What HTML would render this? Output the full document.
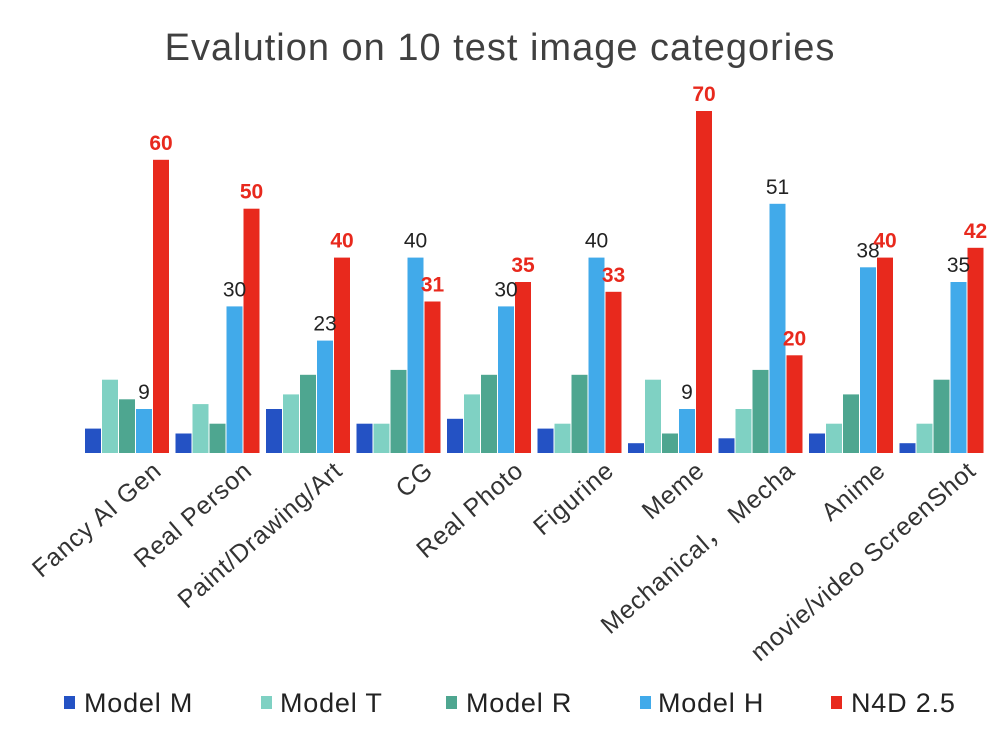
<!DOCTYPE html>
<html><head><meta charset="utf-8"><style>body{margin:0;background:#fff}svg{display:block}
.m{fill:#2452c4}.t{fill:#7fd1c3}.r{fill:#4ea690}.h{fill:#41aaea}.n{fill:#e8291d}
.lh{font-size:21px;fill:#222;text-anchor:middle}.ln{font-size:21px;font-weight:bold;fill:#e8291d;text-anchor:middle}
.c{font-size:25px;fill:#333;text-anchor:end;letter-spacing:0.8px}.lg{font-size:27px;fill:#222;letter-spacing:0.8px}
</style></head><body>
<svg width="1000" height="756" viewBox="0 0 1000 756" xmlns="http://www.w3.org/2000/svg" font-family="Liberation Sans, sans-serif">
<rect width="1000" height="756" fill="#fff"/>
<text x="500" y="60" text-anchor="middle" font-size="38" letter-spacing="1" fill="#404040">Evalution on 10 test image categories</text>

<g transform="translate(85,453)">
<rect class="m" x="0" y="-24.4" width="16" height="24.4"/><rect class="t" x="17" y="-73.3" width="16" height="73.3"/><rect class="r" x="34" y="-53.7" width="16" height="53.7"/><rect class="h" x="51" y="-44" width="16" height="44"/><rect class="n" x="68" y="-293.2" width="16" height="293.2"/>
<text class="lh" x="59" y="-54">9</text><text class="ln" x="76" y="-303">60</text>
<text class="c" transform="translate(78,20) rotate(-41)">Fancy AI Gen</text></g>

<g transform="translate(175.5,453)">
<rect class="m" x="0" y="-19.5" width="16" height="19.5"/><rect class="t" x="17" y="-48.9" width="16" height="48.9"/><rect class="r" x="34" y="-29.3" width="16" height="29.3"/><rect class="h" x="51" y="-146.6" width="16" height="146.6"/><rect class="n" x="68" y="-244.3" width="16" height="244.3"/>
<text class="lh" x="59" y="-156.6">30</text><text class="ln" x="76" y="-254.3">50</text>
<text class="c" transform="translate(78,20) rotate(-41)">Real Person</text></g>

<g transform="translate(266,453)">
<rect class="m" x="0" y="-44" width="16" height="44"/><rect class="t" x="17" y="-58.6" width="16" height="58.6"/><rect class="r" x="34" y="-78.2" width="16" height="78.2"/><rect class="h" x="51" y="-112.4" width="16" height="112.4"/><rect class="n" x="68" y="-195.4" width="16" height="195.4"/>
<text class="lh" x="59" y="-122.4">23</text><text class="ln" x="76" y="-205.4">40</text>
<text class="c" transform="translate(78,20) rotate(-41)">Paint/Drawing/Art</text></g>

<g transform="translate(356.5,453)">
<rect class="m" x="0" y="-29.3" width="16" height="29.3"/><rect class="t" x="17" y="-29.3" width="16" height="29.3"/><rect class="r" x="34" y="-83.1" width="16" height="83.1"/><rect class="h" x="51" y="-195.4" width="16" height="195.4"/><rect class="n" x="68" y="-151.5" width="16" height="151.5"/>
<text class="lh" x="59" y="-205.4">40</text><text class="ln" x="76" y="-161.5">31</text>
<text class="c" transform="translate(78,20) rotate(-41)">CG</text></g>

<g transform="translate(447,453)">
<rect class="m" x="0" y="-34.2" width="16" height="34.2"/><rect class="t" x="17" y="-58.6" width="16" height="58.6"/><rect class="r" x="34" y="-78.2" width="16" height="78.2"/><rect class="h" x="51" y="-146.6" width="16" height="146.6"/><rect class="n" x="68" y="-171" width="16" height="171"/>
<text class="lh" x="59" y="-156.6">30</text><text class="ln" x="76" y="-181">35</text>
<text class="c" transform="translate(78,20) rotate(-41)">Real Photo</text></g>

<g transform="translate(537.5,453)">
<rect class="m" x="0" y="-24.4" width="16" height="24.4"/><rect class="t" x="17" y="-29.3" width="16" height="29.3"/><rect class="r" x="34" y="-78.2" width="16" height="78.2"/><rect class="h" x="51" y="-195.4" width="16" height="195.4"/><rect class="n" x="68" y="-161.2" width="16" height="161.2"/>
<text class="lh" x="59" y="-205.4">40</text><text class="ln" x="76" y="-171.2">33</text>
<text class="c" transform="translate(78,20) rotate(-41)">Figurine</text></g>

<g transform="translate(628,453)">
<rect class="m" x="0" y="-9.8" width="16" height="9.8"/><rect class="t" x="17" y="-73.3" width="16" height="73.3"/><rect class="r" x="34" y="-19.5" width="16" height="19.5"/><rect class="h" x="51" y="-44" width="16" height="44"/><rect class="n" x="68" y="-342" width="16" height="342"/>
<text class="lh" x="59" y="-54">9</text><text class="ln" x="76" y="-352">70</text>
<text class="c" transform="translate(78,20) rotate(-41)">Meme</text></g>

<g transform="translate(718.5,453)">
<rect class="m" x="0" y="-14.7" width="16" height="14.7"/><rect class="t" x="17" y="-44" width="16" height="44"/><rect class="r" x="34" y="-83.1" width="16" height="83.1"/><rect class="h" x="51" y="-249.2" width="16" height="249.2"/><rect class="n" x="68" y="-97.7" width="16" height="97.7"/>
<text class="lh" x="59" y="-259.2">51</text><text class="ln" x="76" y="-107.7">20</text>
<text class="c" transform="translate(78,20) rotate(-41)">Mechanical，  Mecha</text></g>

<g transform="translate(809,453)">
<rect class="m" x="0" y="-19.5" width="16" height="19.5"/><rect class="t" x="17" y="-29.3" width="16" height="29.3"/><rect class="r" x="34" y="-58.6" width="16" height="58.6"/><rect class="h" x="51" y="-185.7" width="16" height="185.7"/><rect class="n" x="68" y="-195.4" width="16" height="195.4"/>
<text class="lh" x="59" y="-195.7">38</text><text class="ln" x="76" y="-205.4">40</text>
<text class="c" transform="translate(78,20) rotate(-41)">Anime</text></g>

<g transform="translate(899.5,453)">
<rect class="m" x="0" y="-9.8" width="16" height="9.8"/><rect class="t" x="17" y="-29.3" width="16" height="29.3"/><rect class="r" x="34" y="-73.3" width="16" height="73.3"/><rect class="h" x="51" y="-171" width="16" height="171"/><rect class="n" x="68" y="-205.2" width="16" height="205.2"/>
<text class="lh" x="59" y="-181">35</text><text class="ln" x="76" y="-215.2">42</text>
<text class="c" transform="translate(78,20) rotate(-41)">movie/video ScreenShot</text></g>

<rect class="m" x="64" y="696" width="11" height="13"/><text class="lg" x="84" y="712">Model M</text>
<rect class="t" x="261" y="696" width="11" height="13"/><text class="lg" x="280" y="712">Model T</text>
<rect class="r" x="446" y="696" width="11" height="13"/><text class="lg" x="466" y="712">Model R</text>
<rect class="h" x="640" y="696" width="11" height="13"/><text class="lg" x="658" y="712">Model H</text>
<rect class="n" x="831" y="696" width="11" height="13"/><text class="lg" x="851" y="712">N4D 2.5</text>
</svg>
</body></html>
